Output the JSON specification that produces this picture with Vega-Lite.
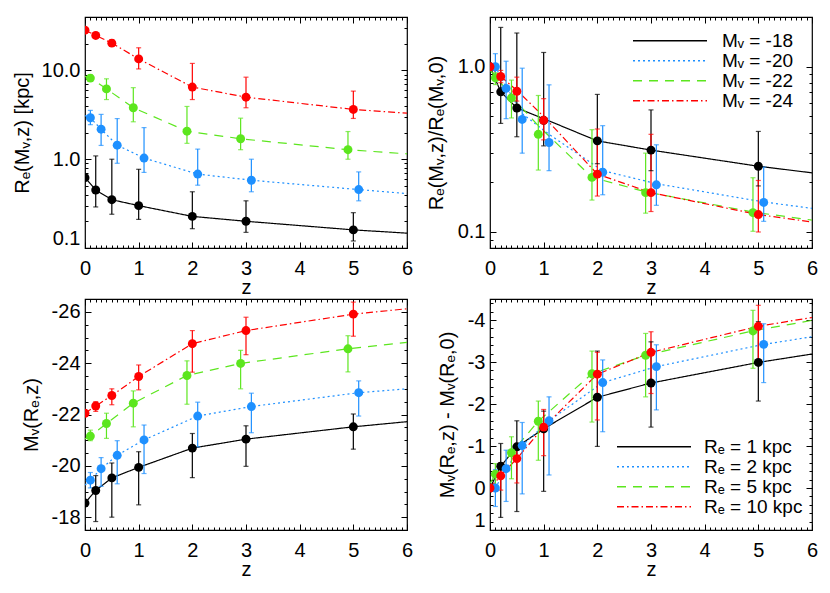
{
"$schema":"https://vega.github.io/schema/vega-lite/v6.json",
"autosize":{"type":"pad"},
"padding":{"left":11,"top":15,"right":5,"bottom":5},
"background":"white",
"config":{
 "view":{"stroke":"black","strokeWidth":1.2},
 "font":"Liberation Sans",
 "axis":{"domain":false,"grid":false,"labelFont":"Liberation Sans","titleFont":"Liberation Sans","labelFontSize":20,"titleFontSize":20,"titleFontWeight":"normal","labelColor":"black","titleColor":"black","tickColor":"black","tickWidth":1,"labelFlush":false,"labelOverlap":false},
 "legend":{"labelFont":"Liberation Sans","labelColor":"black","labelFontSize":19}
},
"datasets":{
"tl_p":[
{"s":-18,"z":0,"v":0.62,"lo":0.62,"hi":0.62},{"s":-18,"z":0.2,"v":0.45,"lo":0.29,"hi":1.09},{"s":-18,"z":0.5,"v":0.35,"lo":0.24,"hi":1.0},{"s":-18,"z":1,"v":0.30,"lo":0.21,"hi":0.77},{"s":-18,"z":2,"v":0.227,"lo":0.165,"hi":0.43},{"s":-18,"z":3,"v":0.20,"lo":0.15,"hi":0.34},{"s":-18,"z":5,"v":0.16,"lo":0.12,"hi":0.25},
{"s":-20,"z":0.1,"v":2.93,"lo":2.45,"hi":3.55},{"s":-20,"z":0.3,"v":2.18,"lo":1.43,"hi":3.2},{"s":-20,"z":0.6,"v":1.44,"lo":0.9,"hi":2.87},{"s":-20,"z":1.1,"v":1.03,"lo":0.71,"hi":2.27},{"s":-20,"z":2.1,"v":0.68,"lo":0.51,"hi":1.3},{"s":-20,"z":3.1,"v":0.58,"lo":0.43,"hi":1.0},{"s":-20,"z":5.1,"v":0.455,"lo":0.34,"hi":0.72},
{"s":-22,"z":0.1,"v":8.2,"lo":7.6,"hi":8.9},{"s":-22,"z":0.4,"v":6.2,"lo":4.7,"hi":8.05},{"s":-22,"z":0.9,"v":3.8,"lo":2.64,"hi":6.4},{"s":-22,"z":1.9,"v":2.07,"lo":1.51,"hi":3.93},{"s":-22,"z":2.9,"v":1.70,"lo":1.28,"hi":2.9},{"s":-22,"z":4.9,"v":1.28,"lo":1.0,"hi":2.05},
{"s":-24,"z":0,"v":28.4,"lo":28.4,"hi":28.4},{"s":-24,"z":0.2,"v":24.8,"lo":23.5,"hi":26.2},{"s":-24,"z":0.5,"v":20.3,"lo":18.8,"hi":22.2},{"s":-24,"z":1,"v":13.5,"lo":10.4,"hi":18},{"s":-24,"z":2,"v":6.5,"lo":4.7,"hi":12},{"s":-24,"z":3,"v":5.0,"lo":3.8,"hi":8.4},{"s":-24,"z":5,"v":3.64,"lo":2.88,"hi":5.85}
],
"tl_l":[
{"s":-18,"z":0,"v":0.62},{"s":-18,"z":0.2,"v":0.45},{"s":-18,"z":0.5,"v":0.35},{"s":-18,"z":1,"v":0.30},{"s":-18,"z":2,"v":0.227},{"s":-18,"z":3,"v":0.20},{"s":-18,"z":5,"v":0.16},{"s":-18,"z":6,"v":0.147},
{"s":-20,"z":0,"v":3.1},{"s":-20,"z":0.1,"v":2.93},{"s":-20,"z":0.3,"v":2.18},{"s":-20,"z":0.6,"v":1.44},{"s":-20,"z":1.1,"v":1.03},{"s":-20,"z":2.1,"v":0.68},{"s":-20,"z":3.1,"v":0.58},{"s":-20,"z":5.1,"v":0.455},{"s":-20,"z":6,"v":0.41},
{"s":-22,"z":0,"v":8.6},{"s":-22,"z":0.1,"v":8.2},{"s":-22,"z":0.4,"v":6.2},{"s":-22,"z":0.9,"v":3.8},{"s":-22,"z":1.9,"v":2.07},{"s":-22,"z":2.9,"v":1.70},{"s":-22,"z":4.9,"v":1.28},{"s":-22,"z":6,"v":1.15},
{"s":-24,"z":0,"v":28.4},{"s":-24,"z":0.2,"v":24.8},{"s":-24,"z":0.5,"v":20.3},{"s":-24,"z":1,"v":13.5},{"s":-24,"z":2,"v":6.5},{"s":-24,"z":3,"v":5.0},{"s":-24,"z":5,"v":3.64},{"s":-24,"z":6,"v":3.3}
],
"tr_p":[
{"s":-18,"z":0,"v":1.0,"lo":1.0,"hi":1.0},{"s":-18,"z":0.2,"v":0.705,"lo":0.454,"hi":1.73},{"s":-18,"z":0.5,"v":0.563,"lo":0.377,"hi":1.6},{"s":-18,"z":1,"v":0.474,"lo":0.332,"hi":1.22},{"s":-18,"z":2,"v":0.356,"lo":0.259,"hi":0.68},{"s":-18,"z":3,"v":0.313,"lo":0.235,"hi":0.548},{"s":-18,"z":5,"v":0.25,"lo":0.19,"hi":0.406},
{"s":-20,"z":0.1,"v":1.0,"lo":0.83,"hi":1.2},{"s":-20,"z":0.3,"v":0.74,"lo":0.485,"hi":1.08},{"s":-20,"z":0.6,"v":0.48,"lo":0.30,"hi":0.98},{"s":-20,"z":1.1,"v":0.348,"lo":0.235,"hi":0.777},{"s":-20,"z":2.1,"v":0.23,"lo":0.168,"hi":0.44},{"s":-20,"z":3.1,"v":0.193,"lo":0.145,"hi":0.337},{"s":-20,"z":5.1,"v":0.151,"lo":0.116,"hi":0.247},
{"s":-22,"z":0.1,"v":0.857,"lo":0.78,"hi":0.92},{"s":-22,"z":0.4,"v":0.648,"lo":0.49,"hi":0.83},{"s":-22,"z":0.9,"v":0.39,"lo":0.237,"hi":0.67},{"s":-22,"z":1.9,"v":0.214,"lo":0.156,"hi":0.416},{"s":-22,"z":2.9,"v":0.173,"lo":0.13,"hi":0.30},{"s":-22,"z":4.9,"v":0.131,"lo":0.101,"hi":0.213},
{"s":-24,"z":0,"v":1.0,"lo":1.0,"hi":1.0},{"s":-24,"z":0.2,"v":0.873,"lo":0.8,"hi":0.95},{"s":-24,"z":0.5,"v":0.711,"lo":0.62,"hi":0.865},{"s":-24,"z":1,"v":0.474,"lo":0.361,"hi":0.641},{"s":-24,"z":2,"v":0.224,"lo":0.165,"hi":0.42},{"s":-24,"z":3,"v":0.173,"lo":0.133,"hi":0.39},{"s":-24,"z":5,"v":0.1275,"lo":0.1,"hi":0.205}
],
"tr_l":[
{"s":-18,"z":0,"v":1.0},{"s":-18,"z":0.2,"v":0.705},{"s":-18,"z":0.5,"v":0.563},{"s":-18,"z":1,"v":0.485},{"s":-18,"z":2,"v":0.356},{"s":-18,"z":3,"v":0.313},{"s":-18,"z":5,"v":0.25},{"s":-18,"z":6,"v":0.228},
{"s":-20,"z":0,"v":1.03},{"s":-20,"z":0.1,"v":1.0},{"s":-20,"z":0.3,"v":0.76},{"s":-20,"z":0.6,"v":0.52},{"s":-20,"z":1.1,"v":0.39},{"s":-20,"z":2.1,"v":0.235},{"s":-20,"z":3.1,"v":0.196},{"s":-20,"z":5.1,"v":0.152},{"s":-20,"z":6,"v":0.139},
{"s":-22,"z":0,"v":0.95},{"s":-22,"z":0.1,"v":0.88},{"s":-22,"z":0.4,"v":0.66},{"s":-22,"z":0.9,"v":0.44},{"s":-22,"z":1.9,"v":0.214},{"s":-22,"z":2.9,"v":0.175},{"s":-22,"z":4.9,"v":0.132},{"s":-22,"z":6,"v":0.118},
{"s":-24,"z":0,"v":1.0},{"s":-24,"z":0.2,"v":0.873},{"s":-24,"z":0.5,"v":0.72},{"s":-24,"z":1,"v":0.5},{"s":-24,"z":2,"v":0.224},{"s":-24,"z":3,"v":0.173},{"s":-24,"z":5,"v":0.1275},{"s":-24,"z":6,"v":0.115}
],
"bl_p":[
{"s":1,"z":0,"v":-18.55,"lo":-18.55,"hi":-18.55},{"s":1,"z":0.2,"v":-19.04,"lo":-17.83,"hi":-19.62},{"s":1,"z":0.5,"v":-19.53,"lo":-18.0,"hi":-20.11},{"s":1,"z":1,"v":-19.94,"lo":-18.48,"hi":-20.55},{"s":1,"z":2,"v":-20.69,"lo":-19.54,"hi":-21.26},{"s":1,"z":3,"v":-21.04,"lo":-19.98,"hi":-21.56},{"s":1,"z":5,"v":-21.52,"lo":-20.65,"hi":-22.02},
{"s":2,"z":0.1,"v":-19.44,"lo":-19.14,"hi":-19.74},{"s":2,"z":0.3,"v":-19.89,"lo":-19.2,"hi":-20.32},{"s":2,"z":0.6,"v":-20.41,"lo":-19.3,"hi":-20.98},{"s":2,"z":1.1,"v":-21.01,"lo":-19.7,"hi":-21.59},{"s":2,"z":2.1,"v":-21.94,"lo":-20.74,"hi":-22.48},{"s":2,"z":3.1,"v":-22.31,"lo":-21.29,"hi":-22.83},{"s":2,"z":5.1,"v":-22.85,"lo":-21.94,"hi":-23.31},
{"s":5,"z":0.1,"v":-21.16,"lo":-20.98,"hi":-21.39},{"s":5,"z":0.4,"v":-21.65,"lo":-21.07,"hi":-22.05},{"s":5,"z":0.9,"v":-22.44,"lo":-21.52,"hi":-22.92},{"s":5,"z":1.9,"v":-23.52,"lo":-22.4,"hi":-24.09},{"s":5,"z":2.9,"v":-23.99,"lo":-23.0,"hi":-24.5},{"s":5,"z":4.9,"v":-24.56,"lo":-23.66,"hi":-25.07},
{"s":10,"z":0,"v":-22.05,"lo":-22.05,"hi":-22.05},{"s":10,"z":0.2,"v":-22.33,"lo":-22.12,"hi":-22.5},{"s":10,"z":0.5,"v":-22.74,"lo":-22.38,"hi":-23.0},{"s":10,"z":1,"v":-23.48,"lo":-22.96,"hi":-23.93},{"s":10,"z":2,"v":-24.76,"lo":-23.65,"hi":-25.27},{"s":10,"z":3,"v":-25.27,"lo":-24.33,"hi":-25.79},{"s":10,"z":5,"v":-25.91,"lo":-25.05,"hi":-26.38}
],
"bl_l":[
{"s":1,"z":0,"v":-18.55},{"s":1,"z":0.2,"v":-19.04},{"s":1,"z":0.5,"v":-19.53},{"s":1,"z":1,"v":-19.94},{"s":1,"z":2,"v":-20.69},{"s":1,"z":3,"v":-21.04},{"s":1,"z":5,"v":-21.52},{"s":1,"z":6,"v":-21.72},
{"s":2,"z":0,"v":-19.25},{"s":2,"z":0.1,"v":-19.44},{"s":2,"z":0.3,"v":-19.89},{"s":2,"z":0.6,"v":-20.41},{"s":2,"z":1.1,"v":-21.01},{"s":2,"z":2.1,"v":-21.94},{"s":2,"z":3.1,"v":-22.31},{"s":2,"z":5.1,"v":-22.85},{"s":2,"z":6,"v":-23.0},
{"s":5,"z":0,"v":-21.05},{"s":5,"z":0.1,"v":-21.16},{"s":5,"z":0.4,"v":-21.65},{"s":5,"z":0.9,"v":-22.44},{"s":5,"z":1.9,"v":-23.52},{"s":5,"z":2.9,"v":-23.99},{"s":5,"z":4.9,"v":-24.56},{"s":5,"z":6,"v":-24.81},
{"s":10,"z":0,"v":-22.05},{"s":10,"z":0.2,"v":-22.33},{"s":10,"z":0.5,"v":-22.74},{"s":10,"z":1,"v":-23.48},{"s":10,"z":2,"v":-24.76},{"s":10,"z":3,"v":-25.27},{"s":10,"z":5,"v":-25.91},{"s":10,"z":6,"v":-26.12}
],
"br_p":[
{"s":1,"z":0,"v":0,"lo":0,"hi":0},{"s":1,"z":0.2,"v":-0.52,"lo":0.70,"hi":-1.06},{"s":1,"z":0.5,"v":-0.98,"lo":0.56,"hi":-1.6},{"s":1,"z":1,"v":-1.41,"lo":0.08,"hi":-1.83},{"s":1,"z":2,"v":-2.16,"lo":-0.99,"hi":-3.26},{"s":1,"z":3,"v":-2.5,"lo":-1.45,"hi":-3.48},{"s":1,"z":5,"v":-2.99,"lo":-2.07,"hi":-3.96},
{"s":2,"z":0.1,"v":0,"lo":0.44,"hi":-0.44},{"s":2,"z":0.3,"v":-0.46,"lo":0.32,"hi":-0.9},{"s":2,"z":0.6,"v":-1.01,"lo":0.14,"hi":-1.56},{"s":2,"z":1.1,"v":-1.6,"lo":-0.31,"hi":-2.17},{"s":2,"z":2.1,"v":-2.51,"lo":-1.34,"hi":-3.05},{"s":2,"z":3.1,"v":-2.89,"lo":-1.86,"hi":-3.41},{"s":2,"z":5.1,"v":-3.42,"lo":-2.51,"hi":-3.91},
{"s":5,"z":0.1,"v":-0.33,"lo":-0.06,"hi":-0.58},{"s":5,"z":0.4,"v":-0.84,"lo":-0.22,"hi":-1.22},{"s":5,"z":0.9,"v":-1.59,"lo":-0.66,"hi":-2.07},{"s":5,"z":1.9,"v":-2.72,"lo":-1.57,"hi":-3.26},{"s":5,"z":2.9,"v":-3.16,"lo":-2.17,"hi":-3.68},{"s":5,"z":4.9,"v":-3.74,"lo":-2.85,"hi":-4.23},
{"s":10,"z":0,"v":0,"lo":0,"hi":0},{"s":10,"z":0.2,"v":-0.29,"lo":0.05,"hi":-0.6},{"s":10,"z":0.5,"v":-0.70,"lo":-0.12,"hi":-1.06},{"s":10,"z":1,"v":-1.45,"lo":-0.77,"hi":-1.87},{"s":10,"z":2,"v":-2.71,"lo":-1.62,"hi":-3.23},{"s":10,"z":3,"v":-3.23,"lo":-2.25,"hi":-3.72},{"s":10,"z":5,"v":-3.85,"lo":-2.95,"hi":-4.35}
],
"br_l":[
{"s":1,"z":0,"v":0},{"s":1,"z":0.2,"v":-0.52},{"s":1,"z":0.5,"v":-0.98},{"s":1,"z":1,"v":-1.41},{"s":1,"z":2,"v":-2.16},{"s":1,"z":3,"v":-2.5},{"s":1,"z":5,"v":-2.99},{"s":1,"z":6,"v":-3.19},
{"s":2,"z":0,"v":0},{"s":2,"z":0.1,"v":0},{"s":2,"z":0.3,"v":-0.46},{"s":2,"z":0.6,"v":-1.01},{"s":2,"z":1.1,"v":-1.6},{"s":2,"z":2.1,"v":-2.51},{"s":2,"z":3.1,"v":-2.89},{"s":2,"z":5.1,"v":-3.42},{"s":2,"z":6,"v":-3.6},
{"s":5,"z":0,"v":-0.1},{"s":5,"z":0.1,"v":-0.33},{"s":5,"z":0.4,"v":-0.84},{"s":5,"z":0.9,"v":-1.59},{"s":5,"z":1.9,"v":-2.72},{"s":5,"z":2.9,"v":-3.16},{"s":5,"z":4.9,"v":-3.74},{"s":5,"z":6,"v":-3.99},
{"s":10,"z":0,"v":0},{"s":10,"z":0.2,"v":-0.29},{"s":10,"z":0.5,"v":-0.70},{"s":10,"z":1,"v":-1.45},{"s":10,"z":2,"v":-2.71},{"s":10,"z":3,"v":-3.23},{"s":10,"z":5,"v":-3.85},{"s":10,"z":6,"v":-4.06}
]
},
"columns":2,
"spacing":{"row":51,"column":83},
"bounds":"flush",
"resolve":{"scale":{"x":"independent","y":"independent","color":"independent","strokeDash":"independent"},"legend":{"color":"independent","strokeDash":"independent"}},
"concat":[
{
"width":322,"height":231,
"resolve":{"axis":{"x":"independent","y":"independent"}},
"layer":[
{"data":{"name":"tl_l"},"mark":{"type":"line","strokeWidth":1.2,"clip":true},
 "encoding":{
 "x":{"field":"z","type":"quantitative","scale":{"domain":[0,6],"nice":false,"zero":false},"axis":{"orient":"bottom","values":[0,1,2,3,4,5,6],"labels":false,"title":null,"tickSize":-6}},
 "y":{"field":"v","type":"quantitative","scale":{"type":"log","domain":[0.1,40],"nice":false},"axis":{"orient":"left","values":[0.1,1,10],"labels":false,"title":null,"tickSize":-6}},
 "color":{"field":"s","type":"nominal","scale":{"domain":[-18,-20,-22,-24],"range":["#000000","#1E90FF","#5CE61E","#FF0000"]},"legend":null},
 "strokeDash":{"field":"s","type":"nominal","scale":{"domain":[-18,-20,-22,-24],"range":[[1,0],[2,3],[9,7],[7,3,1.5,3]]},"legend":null}}},
{"data":{"name":"tl_p"},"mark":{"type":"rule","strokeWidth":1.2,"clip":true},
 "encoding":{
 "x":{"field":"z","type":"quantitative","scale":{"domain":[0,6],"nice":false,"zero":false},"axis":{"orient":"bottom","values":[0.1,0.2,0.3,0.4,0.5,0.6,0.7,0.8,0.9,1.1,1.2,1.3,1.4,1.5,1.6,1.7,1.8,1.9,2.1,2.2,2.3,2.4,2.5,2.6,2.7,2.8,2.9,3.1,3.2,3.3,3.4,3.5,3.6,3.7,3.8,3.9,4.1,4.2,4.3,4.4,4.5,4.6,4.7,4.8,4.9,5.1,5.2,5.3,5.4,5.5,5.6,5.7,5.8,5.9],"labels":false,"title":null,"tickSize":-3}},
 "y":{"field":"lo","type":"quantitative","scale":{"type":"log","domain":[0.1,40],"nice":false},"axis":{"orient":"left","values":[0.2,0.3,0.4,0.5,0.6,0.7,0.8,0.9,2,3,4,5,6,7,8,9,20,30,40],"labels":false,"title":null,"tickSize":-3}},
 "y2":{"field":"hi"},
 "color":{"field":"s","type":"nominal","scale":{"domain":[-18,-20,-22,-24],"range":["#000000","#1E90FF","#5CE61E","#FF0000"]},"legend":null}}},
{"data":{"name":"tl_p"},"mark":{"type":"tick","orient":"horizontal","size":5,"thickness":1.2,"clip":true},
 "encoding":{
 "x":{"field":"z","type":"quantitative","scale":{"domain":[0,6],"nice":false,"zero":false},"axis":{"orient":"top","values":[0,1,2,3,4,5,6],"labels":false,"title":null,"tickSize":-6}},
 "y":{"field":"lo","type":"quantitative","scale":{"type":"log","domain":[0.1,40],"nice":false},"axis":{"orient":"right","values":[0.1,1,10],"labels":false,"title":null,"tickSize":-6}},
 "color":{"field":"s","type":"nominal","scale":{"domain":[-18,-20,-22,-24],"range":["#000000","#1E90FF","#5CE61E","#FF0000"]},"legend":null}}},
{"data":{"name":"tl_p"},"mark":{"type":"tick","orient":"horizontal","size":5,"thickness":1.2,"clip":true},
 "encoding":{
 "x":{"field":"z","type":"quantitative","scale":{"domain":[0,6],"nice":false,"zero":false},"axis":{"orient":"top","values":[0.1,0.2,0.3,0.4,0.5,0.6,0.7,0.8,0.9,1.1,1.2,1.3,1.4,1.5,1.6,1.7,1.8,1.9,2.1,2.2,2.3,2.4,2.5,2.6,2.7,2.8,2.9,3.1,3.2,3.3,3.4,3.5,3.6,3.7,3.8,3.9,4.1,4.2,4.3,4.4,4.5,4.6,4.7,4.8,4.9,5.1,5.2,5.3,5.4,5.5,5.6,5.7,5.8,5.9],"labels":false,"title":null,"tickSize":-3}},
 "y":{"field":"hi","type":"quantitative","scale":{"type":"log","domain":[0.1,40],"nice":false},"axis":{"orient":"right","values":[0.2,0.3,0.4,0.5,0.6,0.7,0.8,0.9,2,3,4,5,6,7,8,9,20,30,40],"labels":false,"title":null,"tickSize":-3}},
 "color":{"field":"s","type":"nominal","scale":{"domain":[-18,-20,-22,-24],"range":["#000000","#1E90FF","#5CE61E","#FF0000"]},"legend":null}}},
{"data":{"name":"tl_p"},"mark":{"type":"circle","size":80,"opacity":1,"clip":true},
 "encoding":{
 "x":{"field":"z","type":"quantitative","scale":{"domain":[0,6],"nice":false,"zero":false},"axis":{"orient":"bottom","values":[0,1,2,3,4,5,6],"ticks":false,"labelPadding":10,"title":"z","titlePadding":-1}},
 "y":{"field":"v","type":"quantitative","scale":{"type":"log","domain":[0.1,40],"nice":false},"axis":{"orient":"left","values":[0.1,1,10],"ticks":false,"labelPadding":5,"labelFlush":true,"labelExpr":"format(datum.value,'.1f')","title":"Rₑ(Mᵥ,z) [kpc]","titlePadding":9}},
 "color":{"field":"s","type":"nominal","scale":{"domain":[-18,-20,-22,-24],"range":["#000000","#1E90FF","#5CE61E","#FF0000"]},"legend":null}}}
]
},
{
"width":322,"height":231,
"resolve":{"axis":{"x":"independent","y":"independent"}},
"layer":[
{"data":{"name":"tr_l"},"mark":{"type":"line","strokeWidth":1.2,"clip":true},
 "encoding":{
 "x":{"field":"z","type":"quantitative","scale":{"domain":[0,6],"nice":false,"zero":false},"axis":{"orient":"bottom","values":[0,1,2,3,4,5,6],"labels":false,"title":null,"tickSize":-6}},
 "y":{"field":"v","type":"quantitative","scale":{"type":"log","domain":[0.08,2],"nice":false},"axis":{"orient":"left","values":[0.1,1],"labels":false,"title":null,"tickSize":-6}},
 "color":{"field":"s","type":"nominal","scale":{"domain":[-18,-20,-22,-24],"range":["#000000","#1E90FF","#5CE61E","#FF0000"]},
   "legend":{"orient":"none","legendX":142,"legendY":14,"title":null,"symbolType":"stroke","symbolSize":5476,"symbolStrokeWidth":1.5,"labelOffset":14,"clipHeight":19.3,"rowPadding":0,"padding":0,"labelExpr":"'Mᵥ = ' + datum.label"}},
 "strokeDash":{"field":"s","type":"nominal","scale":{"domain":[-18,-20,-22,-24],"range":[[1,0],[2,3],[9,7],[7,3,1.5,3]]},
   "legend":{"orient":"none","legendX":142,"legendY":14,"title":null,"symbolType":"stroke","symbolSize":5476,"symbolStrokeWidth":1.5,"labelOffset":14,"clipHeight":19.3,"rowPadding":0,"padding":0,"labelExpr":"'Mᵥ = ' + datum.label"}}}},
{"data":{"name":"tr_p"},"mark":{"type":"rule","strokeWidth":1.2,"clip":true},
 "encoding":{
 "x":{"field":"z","type":"quantitative","scale":{"domain":[0,6],"nice":false,"zero":false},"axis":{"orient":"bottom","values":[0.1,0.2,0.3,0.4,0.5,0.6,0.7,0.8,0.9,1.1,1.2,1.3,1.4,1.5,1.6,1.7,1.8,1.9,2.1,2.2,2.3,2.4,2.5,2.6,2.7,2.8,2.9,3.1,3.2,3.3,3.4,3.5,3.6,3.7,3.8,3.9,4.1,4.2,4.3,4.4,4.5,4.6,4.7,4.8,4.9,5.1,5.2,5.3,5.4,5.5,5.6,5.7,5.8,5.9],"labels":false,"title":null,"tickSize":-3}},
 "y":{"field":"lo","type":"quantitative","scale":{"type":"log","domain":[0.08,2],"nice":false},"axis":{"orient":"left","values":[0.08,0.09,0.2,0.3,0.4,0.5,0.6,0.7,0.8,0.9,2],"labels":false,"title":null,"tickSize":-3}},
 "y2":{"field":"hi"},
 "color":{"field":"s","type":"nominal","scale":{"domain":[-18,-20,-22,-24],"range":["#000000","#1E90FF","#5CE61E","#FF0000"]},"legend":null}}},
{"data":{"name":"tr_p"},"mark":{"type":"tick","orient":"horizontal","size":5,"thickness":1.2,"clip":true},
 "encoding":{
 "x":{"field":"z","type":"quantitative","scale":{"domain":[0,6],"nice":false,"zero":false},"axis":{"orient":"top","values":[0,1,2,3,4,5,6],"labels":false,"title":null,"tickSize":-6}},
 "y":{"field":"lo","type":"quantitative","scale":{"type":"log","domain":[0.08,2],"nice":false},"axis":{"orient":"right","values":[0.1,1],"labels":false,"title":null,"tickSize":-6}},
 "color":{"field":"s","type":"nominal","scale":{"domain":[-18,-20,-22,-24],"range":["#000000","#1E90FF","#5CE61E","#FF0000"]},"legend":null}}},
{"data":{"name":"tr_p"},"mark":{"type":"tick","orient":"horizontal","size":5,"thickness":1.2,"clip":true},
 "encoding":{
 "x":{"field":"z","type":"quantitative","scale":{"domain":[0,6],"nice":false,"zero":false},"axis":{"orient":"top","values":[0.1,0.2,0.3,0.4,0.5,0.6,0.7,0.8,0.9,1.1,1.2,1.3,1.4,1.5,1.6,1.7,1.8,1.9,2.1,2.2,2.3,2.4,2.5,2.6,2.7,2.8,2.9,3.1,3.2,3.3,3.4,3.5,3.6,3.7,3.8,3.9,4.1,4.2,4.3,4.4,4.5,4.6,4.7,4.8,4.9,5.1,5.2,5.3,5.4,5.5,5.6,5.7,5.8,5.9],"labels":false,"title":null,"tickSize":-3}},
 "y":{"field":"hi","type":"quantitative","scale":{"type":"log","domain":[0.08,2],"nice":false},"axis":{"orient":"right","values":[0.08,0.09,0.2,0.3,0.4,0.5,0.6,0.7,0.8,0.9,2],"labels":false,"title":null,"tickSize":-3}},
 "color":{"field":"s","type":"nominal","scale":{"domain":[-18,-20,-22,-24],"range":["#000000","#1E90FF","#5CE61E","#FF0000"]},"legend":null}}},
{"data":{"name":"tr_p"},"mark":{"type":"circle","size":80,"opacity":1,"clip":true},
 "encoding":{
 "x":{"field":"z","type":"quantitative","scale":{"domain":[0,6],"nice":false,"zero":false},"axis":{"orient":"bottom","values":[0,1,2,3,4,5,6],"ticks":false,"labelPadding":10,"title":"z","titlePadding":-1}},
 "y":{"field":"v","type":"quantitative","scale":{"type":"log","domain":[0.08,2],"nice":false},"axis":{"orient":"left","values":[0.1,1],"ticks":false,"labelPadding":5,"labelFlush":true,"labelExpr":"format(datum.value,'.1f')","title":"Rₑ(Mᵥ,z)/Rₑ(Mᵥ,0)","titlePadding":11}},
 "color":{"field":"s","type":"nominal","scale":{"domain":[-18,-20,-22,-24],"range":["#000000","#1E90FF","#5CE61E","#FF0000"]},"legend":null}}}
]
},
{
"width":322,"height":231,
"resolve":{"axis":{"x":"independent","y":"independent"}},
"layer":[
{"data":{"name":"bl_l"},"mark":{"type":"line","strokeWidth":1.2,"clip":true},
 "encoding":{
 "x":{"field":"z","type":"quantitative","scale":{"domain":[0,6],"nice":false,"zero":false},"axis":{"orient":"bottom","values":[0,1,2,3,4,5,6],"labels":false,"title":null,"tickSize":-6}},
 "y":{"field":"v","type":"quantitative","scale":{"domain":[-26.5,-17.5],"reverse":true,"nice":false,"zero":false},"axis":{"orient":"left","values":[-26,-24,-22,-20,-18],"labels":false,"title":null,"tickSize":-6}},
 "color":{"field":"s","type":"nominal","scale":{"domain":[1,2,5,10],"range":["#000000","#1E90FF","#5CE61E","#FF0000"]},"legend":null},
 "strokeDash":{"field":"s","type":"nominal","scale":{"domain":[1,2,5,10],"range":[[1,0],[2,3],[9,7],[7,3,1.5,3]]},"legend":null}}},
{"data":{"name":"bl_p"},"mark":{"type":"rule","strokeWidth":1.2,"clip":true},
 "encoding":{
 "x":{"field":"z","type":"quantitative","scale":{"domain":[0,6],"nice":false,"zero":false},"axis":{"orient":"bottom","values":[0.1,0.2,0.3,0.4,0.5,0.6,0.7,0.8,0.9,1.1,1.2,1.3,1.4,1.5,1.6,1.7,1.8,1.9,2.1,2.2,2.3,2.4,2.5,2.6,2.7,2.8,2.9,3.1,3.2,3.3,3.4,3.5,3.6,3.7,3.8,3.9,4.1,4.2,4.3,4.4,4.5,4.6,4.7,4.8,4.9,5.1,5.2,5.3,5.4,5.5,5.6,5.7,5.8,5.9],"labels":false,"title":null,"tickSize":-3}},
 "y":{"field":"lo","type":"quantitative","scale":{"domain":[-26.5,-17.5],"reverse":true,"nice":false,"zero":false},"axis":{"orient":"left","values":[-26.5,-25.5,-25,-24.5,-23.5,-23,-22.5,-21.5,-21,-20.5,-19.5,-19,-18.5,-17.5],"labels":false,"title":null,"tickSize":-3}},
 "y2":{"field":"hi"},
 "color":{"field":"s","type":"nominal","scale":{"domain":[1,2,5,10],"range":["#000000","#1E90FF","#5CE61E","#FF0000"]},"legend":null}}},
{"data":{"name":"bl_p"},"mark":{"type":"tick","orient":"horizontal","size":5,"thickness":1.2,"clip":true},
 "encoding":{
 "x":{"field":"z","type":"quantitative","scale":{"domain":[0,6],"nice":false,"zero":false},"axis":{"orient":"top","values":[0,1,2,3,4,5,6],"labels":false,"title":null,"tickSize":-6}},
 "y":{"field":"lo","type":"quantitative","scale":{"domain":[-26.5,-17.5],"reverse":true,"nice":false,"zero":false},"axis":{"orient":"right","values":[-26,-24,-22,-20,-18],"labels":false,"title":null,"tickSize":-6}},
 "color":{"field":"s","type":"nominal","scale":{"domain":[1,2,5,10],"range":["#000000","#1E90FF","#5CE61E","#FF0000"]},"legend":null}}},
{"data":{"name":"bl_p"},"mark":{"type":"tick","orient":"horizontal","size":5,"thickness":1.2,"clip":true},
 "encoding":{
 "x":{"field":"z","type":"quantitative","scale":{"domain":[0,6],"nice":false,"zero":false},"axis":{"orient":"top","values":[0.1,0.2,0.3,0.4,0.5,0.6,0.7,0.8,0.9,1.1,1.2,1.3,1.4,1.5,1.6,1.7,1.8,1.9,2.1,2.2,2.3,2.4,2.5,2.6,2.7,2.8,2.9,3.1,3.2,3.3,3.4,3.5,3.6,3.7,3.8,3.9,4.1,4.2,4.3,4.4,4.5,4.6,4.7,4.8,4.9,5.1,5.2,5.3,5.4,5.5,5.6,5.7,5.8,5.9],"labels":false,"title":null,"tickSize":-3}},
 "y":{"field":"hi","type":"quantitative","scale":{"domain":[-26.5,-17.5],"reverse":true,"nice":false,"zero":false},"axis":{"orient":"right","values":[-26.5,-25.5,-25,-24.5,-23.5,-23,-22.5,-21.5,-21,-20.5,-19.5,-19,-18.5,-17.5],"labels":false,"title":null,"tickSize":-3}},
 "color":{"field":"s","type":"nominal","scale":{"domain":[1,2,5,10],"range":["#000000","#1E90FF","#5CE61E","#FF0000"]},"legend":null}}},
{"data":{"name":"bl_p"},"mark":{"type":"circle","size":80,"opacity":1,"clip":true},
 "encoding":{
 "x":{"field":"z","type":"quantitative","scale":{"domain":[0,6],"nice":false,"zero":false},"axis":{"orient":"bottom","values":[0,1,2,3,4,5,6],"ticks":false,"labelPadding":10,"title":"z","titlePadding":-1}},
 "y":{"field":"v","type":"quantitative","scale":{"domain":[-26.5,-17.5],"reverse":true,"nice":false,"zero":false},"axis":{"orient":"left","values":[-26,-24,-22,-20,-18],"ticks":false,"labelPadding":5,"labelFlush":true,"labelExpr":"toString(datum.value)","title":"Mᵥ(Rₑ,z)","titlePadding":10}},
 "color":{"field":"s","type":"nominal","scale":{"domain":[1,2,5,10],"range":["#000000","#1E90FF","#5CE61E","#FF0000"]},"legend":null}}}
]
},
{
"width":322,"height":231,
"resolve":{"axis":{"x":"independent","y":"independent"}},
"layer":[
{"data":{"name":"br_l"},"mark":{"type":"line","strokeWidth":1.2,"clip":true},
 "encoding":{
 "x":{"field":"z","type":"quantitative","scale":{"domain":[0,6],"nice":false,"zero":false},"axis":{"orient":"bottom","values":[0,1,2,3,4,5,6],"labels":false,"title":null,"tickSize":-6}},
 "y":{"field":"v","type":"quantitative","scale":{"domain":[-4.5,1],"reverse":true,"nice":false,"zero":false},"axis":{"orient":"left","values":[-4,-3,-2,-1,0,1],"labels":false,"title":null,"tickSize":-6}},
 "color":{"field":"s","type":"nominal","scale":{"domain":[1,2,5,10],"range":["#000000","#1E90FF","#5CE61E","#FF0000"]},
   "legend":{"orient":"none","legendX":126,"legendY":138,"title":null,"symbolType":"stroke","symbolSize":5476,"symbolStrokeWidth":1.5,"labelOffset":12,"clipHeight":19.3,"rowPadding":0,"padding":0,"labelExpr":"'Rₑ = ' + datum.label + ' kpc'"}},
 "strokeDash":{"field":"s","type":"nominal","scale":{"domain":[1,2,5,10],"range":[[1,0],[2,3],[9,7],[7,3,1.5,3]]},
   "legend":{"orient":"none","legendX":126,"legendY":138,"title":null,"symbolType":"stroke","symbolSize":5476,"symbolStrokeWidth":1.5,"labelOffset":12,"clipHeight":19.3,"rowPadding":0,"padding":0,"labelExpr":"'Rₑ = ' + datum.label + ' kpc'"}}}},
{"data":{"name":"br_p"},"mark":{"type":"rule","strokeWidth":1.2,"clip":true},
 "encoding":{
 "x":{"field":"z","type":"quantitative","scale":{"domain":[0,6],"nice":false,"zero":false},"axis":{"orient":"bottom","values":[0.1,0.2,0.3,0.4,0.5,0.6,0.7,0.8,0.9,1.1,1.2,1.3,1.4,1.5,1.6,1.7,1.8,1.9,2.1,2.2,2.3,2.4,2.5,2.6,2.7,2.8,2.9,3.1,3.2,3.3,3.4,3.5,3.6,3.7,3.8,3.9,4.1,4.2,4.3,4.4,4.5,4.6,4.7,4.8,4.9,5.1,5.2,5.3,5.4,5.5,5.6,5.7,5.8,5.9],"labels":false,"title":null,"tickSize":-3}},
 "y":{"field":"lo","type":"quantitative","scale":{"domain":[-4.5,1],"reverse":true,"nice":false,"zero":false},"axis":{"orient":"left","values":[-4.4,-4.2,-3.8,-3.6,-3.4,-3.2,-2.8,-2.6,-2.4,-2.2,-1.8,-1.6,-1.4,-1.2,-0.8,-0.6,-0.4,-0.2,0.2,0.4,0.6,0.8],"labels":false,"title":null,"tickSize":-3}},
 "y2":{"field":"hi"},
 "color":{"field":"s","type":"nominal","scale":{"domain":[1,2,5,10],"range":["#000000","#1E90FF","#5CE61E","#FF0000"]},"legend":null}}},
{"data":{"name":"br_p"},"mark":{"type":"tick","orient":"horizontal","size":5,"thickness":1.2,"clip":true},
 "encoding":{
 "x":{"field":"z","type":"quantitative","scale":{"domain":[0,6],"nice":false,"zero":false},"axis":{"orient":"top","values":[0,1,2,3,4,5,6],"labels":false,"title":null,"tickSize":-6}},
 "y":{"field":"lo","type":"quantitative","scale":{"domain":[-4.5,1],"reverse":true,"nice":false,"zero":false},"axis":{"orient":"right","values":[-4,-3,-2,-1,0,1],"labels":false,"title":null,"tickSize":-6}},
 "color":{"field":"s","type":"nominal","scale":{"domain":[1,2,5,10],"range":["#000000","#1E90FF","#5CE61E","#FF0000"]},"legend":null}}},
{"data":{"name":"br_p"},"mark":{"type":"tick","orient":"horizontal","size":5,"thickness":1.2,"clip":true},
 "encoding":{
 "x":{"field":"z","type":"quantitative","scale":{"domain":[0,6],"nice":false,"zero":false},"axis":{"orient":"top","values":[0.1,0.2,0.3,0.4,0.5,0.6,0.7,0.8,0.9,1.1,1.2,1.3,1.4,1.5,1.6,1.7,1.8,1.9,2.1,2.2,2.3,2.4,2.5,2.6,2.7,2.8,2.9,3.1,3.2,3.3,3.4,3.5,3.6,3.7,3.8,3.9,4.1,4.2,4.3,4.4,4.5,4.6,4.7,4.8,4.9,5.1,5.2,5.3,5.4,5.5,5.6,5.7,5.8,5.9],"labels":false,"title":null,"tickSize":-3}},
 "y":{"field":"hi","type":"quantitative","scale":{"domain":[-4.5,1],"reverse":true,"nice":false,"zero":false},"axis":{"orient":"right","values":[-4.4,-4.2,-3.8,-3.6,-3.4,-3.2,-2.8,-2.6,-2.4,-2.2,-1.8,-1.6,-1.4,-1.2,-0.8,-0.6,-0.4,-0.2,0.2,0.4,0.6,0.8],"labels":false,"title":null,"tickSize":-3}},
 "color":{"field":"s","type":"nominal","scale":{"domain":[1,2,5,10],"range":["#000000","#1E90FF","#5CE61E","#FF0000"]},"legend":null}}},
{"data":{"name":"br_p"},"mark":{"type":"circle","size":80,"opacity":1,"clip":true},
 "encoding":{
 "x":{"field":"z","type":"quantitative","scale":{"domain":[0,6],"nice":false,"zero":false},"axis":{"orient":"bottom","values":[0,1,2,3,4,5,6],"ticks":false,"labelPadding":10,"title":"z","titlePadding":-1}},
 "y":{"field":"v","type":"quantitative","scale":{"domain":[-4.5,1],"reverse":true,"nice":false,"zero":false},"axis":{"orient":"left","values":[-4,-3,-2,-1,0,1],"ticks":false,"labelPadding":5,"labelFlush":true,"labelExpr":"toString(datum.value)","title":"Mᵥ(Rₑ,z) - Mᵥ(Rₑ,0)","titlePadding":10}},
 "color":{"field":"s","type":"nominal","scale":{"domain":[1,2,5,10],"range":["#000000","#1E90FF","#5CE61E","#FF0000"]},"legend":null}}}
]
}
]
}
